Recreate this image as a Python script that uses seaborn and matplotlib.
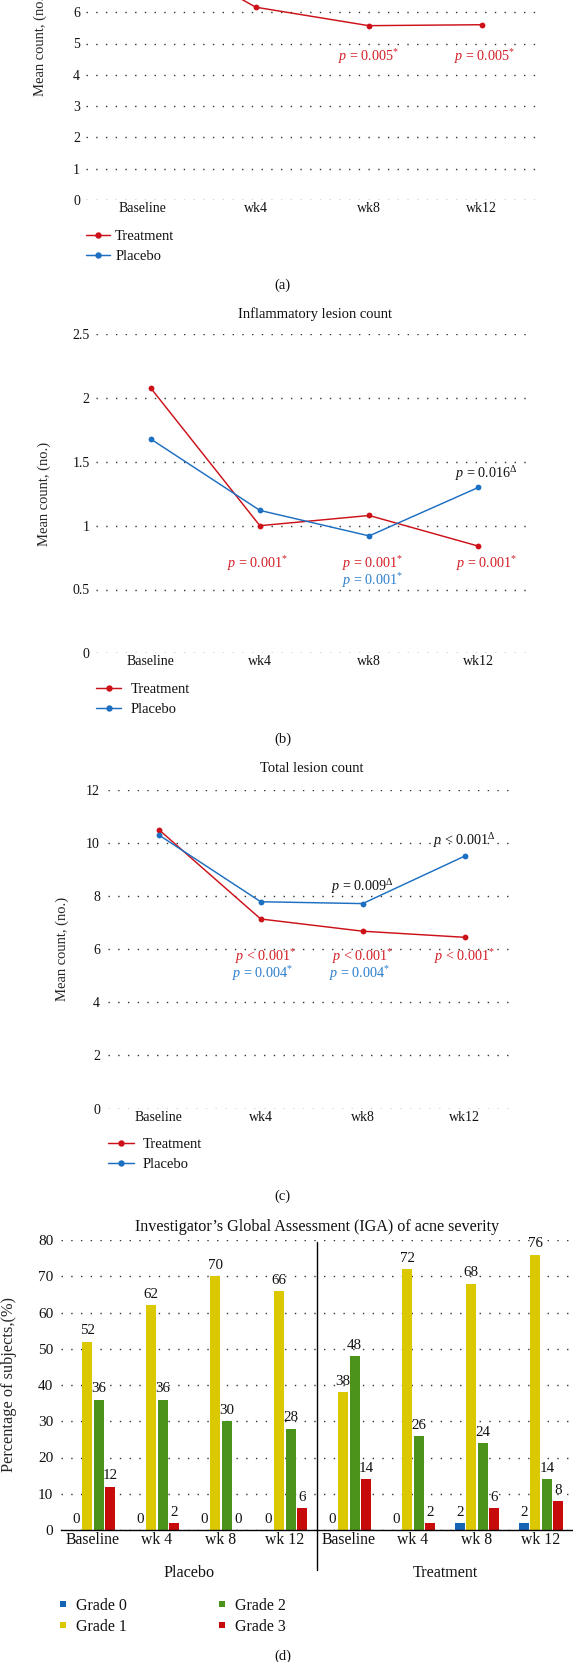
import numpy as np
import pandas as pd
import matplotlib
matplotlib.use("Agg")
import matplotlib.pyplot as plt
import matplotlib.transforms as mtransforms
from matplotlib.lines import Line2D
from matplotlib.ticker import FormatStrFormatter
import seaborn as sns

# ---------------- data ----------------
visits = ["Baseline", "wk4", "wk8", "wk12"]
groups = ["Treatment", "Placebo"]

# (a) only the lower part of this panel is visible in the image
a_treatment = [8.2, 6.16, 5.57, 5.60]

# (b) Inflammatory lesion count
b_treatment = [2.08, 1.00, 1.08, 0.84]
b_placebo = [1.68, 1.12, 0.92, 1.30]

# (c) Total lesion count
c_treatment = [10.51, 7.14, 6.68, 6.45]
c_placebo = [10.31, 7.79, 7.72, 9.51]

# (d) IGA of acne severity (percent of subjects)
iga_visits = ["Baseline", "wk 4", "wk 8", "wk 12"]
iga_arms = ["Placebo", "Treatment"]
grades = ["Grade 0", "Grade 1", "Grade 2", "Grade 3"]
grade0 = [0, 0, 0, 0, 0, 0, 2, 2]
grade1 = [52, 62, 70, 66, 38, 72, 68, 76]
grade2 = [36, 36, 30, 28, 48, 26, 24, 14]
grade3 = [12, 2, 0, 6, 14, 2, 6, 8]

# ---------------- style ----------------
sns.set_style("white")
plt.rcParams["font.family"] = ["Liberation Serif", "DejaVu Serif"]
plt.rcParams["mathtext.fontset"] = "custom"
plt.rcParams["mathtext.rm"] = "Liberation Serif"
plt.rcParams["mathtext.it"] = "Liberation Serif:italic"
plt.rcParams["text.color"] = "#111111"

RED = "#cc1119"
BLUE = "#1d6fc1"
ANN_RED = "#d21f26"
ANN_BLUE = "#2c7fcd"
grade_colors = ["#1565b5", "#dcc800", "#4c931c", "#c70b0b"]

W, H = 573, 1662
fig = plt.figure(figsize=(W / 100, H / 100), dpi=100)
fig.patch.set_facecolor("white")


def rect(left, top, right, bottom):
    return [left / W, 1 - bottom / H, (right - left) / W, (bottom - top) / H]


ax_a = fig.add_axes(rect(86.2, -113, 538.2, 200))
ax_b = fig.add_axes(rect(96, 334.3, 533, 653.3))
ax_c = fig.add_axes(rect(107.7, 790, 515.7, 1108.5))
ax_d = fig.add_axes(rect(61, 1240, 573, 1530))


def style_axes(ax, ymax, step, fs, ypad, xpad, tick_top=None):
    ax.set_ylim(0, ymax)
    top = ymax if tick_top is None else tick_top
    ax.set_yticks(np.arange(0, top + step / 2, step))
    ax.yaxis.set_major_formatter(FormatStrFormatter("%g"))
    ax.grid(axis="y", linestyle=(0, (1, 6)), color="#333333", linewidth=1)
    ax.grid(axis="x", visible=False)
    ax.set_axisbelow(True)
    for s in ax.spines.values():
        s.set_visible(False)
    ax.tick_params(axis="both", length=0, labelsize=fs, colors="#111111")
    ax.tick_params(axis="y", pad=ypad)
    ax.tick_params(axis="x", pad=xpad)
    ax.set_xlabel("")


def line_panel(ax, treat, plac):
    frames = [pd.DataFrame({"visit": visits, "count": treat, "group": "Treatment"})]
    order = ["Treatment"]
    if plac is not None:
        frames.append(pd.DataFrame({"visit": visits, "count": plac, "group": "Placebo"}))
        order.append("Placebo")
    df = pd.concat(frames, ignore_index=True)
    sns.lineplot(data=df, x="visit", y="count", hue="group", hue_order=order,
                 palette={"Treatment": RED, "Placebo": BLUE}, marker="o",
                 markersize=4.2, markeredgewidth=0, linewidth=1.05, sort=False,
                 legend=False, errorbar=None, ax=ax)
    ax.set_xlim(-0.5, 3.5)


def line_legend(x, ytop, hl, htp):
    handles = [Line2D([], [], color=RED, marker="o", markersize=4.6, lw=1.05, markeredgewidth=0),
               Line2D([], [], color=BLUE, marker="o", markersize=4.6, lw=1.05, markeredgewidth=0)]
    fig.legend(handles, groups, loc="upper left", bbox_to_anchor=(x / W, 1 - ytop / H),
               frameon=False, fontsize=10.5, handlelength=hl, handletextpad=htp,
               labelspacing=0.48, borderpad=0, borderaxespad=0)


def ptext(ax, x, y, s, color):
    ax.text(x, y, s, color=color, ha="center", va="center", fontsize=10.2)


# ---------------- (a) ----------------
line_panel(ax_a, a_treatment, None)
style_axes(ax_a, 10, 1, 10, 4.3, 1.5, tick_top=6)
ax_a.set_ylabel("Mean count, (no.)", fontsize=10.5)
ax_a.yaxis.set_label_coords(-0.1007, 0.5)
ax_a.yaxis.label.set_va("center")
ptext(ax_a, 2.0, 4.58, r"$p$ = 0.005$^{*}$", ANN_RED)
ptext(ax_a, 3.03, 4.58, r"$p$ = 0.005$^{*}$", ANN_RED)
line_legend(86, 229.5, 1.65, 0.35)
fig.text(282.5 / W, 1 - 285 / H, "(a)", ha="center", va="center", fontsize=10.5)

# ---------------- (b) ----------------
line_panel(ax_b, b_treatment, b_placebo)
style_axes(ax_b, 2.5, 0.5, 10, 4.6, 1.5)
ax_b.set_ylabel("Mean count, (no.)", fontsize=10.5)
ax_b.yaxis.set_label_coords(-0.119, 0.5)
ax_b.yaxis.label.set_va("center")
ax_b.set_title("Inflammatory lesion count", fontsize=10.5, pad=11.5)
ptext(ax_b, 3.07, 1.41, r"$p$ = 0.016$^{\Delta}$", "#111111")
ptext(ax_b, 0.98, 0.70, r"$p$ = 0.001$^{*}$", ANN_RED)
ptext(ax_b, 2.03, 0.70, r"$p$ = 0.001$^{*}$", ANN_RED)
ptext(ax_b, 3.08, 0.70, r"$p$ = 0.001$^{*}$", ANN_RED)
ptext(ax_b, 2.03, 0.57, r"$p$ = 0.001$^{*}$", ANN_BLUE)
line_legend(95.8, 682.5, 1.75, 0.65)
fig.text(282.5 / W, 1 - 739.3 / H, "(b)", ha="center", va="center", fontsize=10.5)

# ---------------- (c) ----------------
line_panel(ax_c, c_treatment, c_placebo)
style_axes(ax_c, 12, 2, 10, 5.5, 1.5)
ax_c.set_ylabel("Mean count, (no.)", fontsize=10.5)
ax_c.yaxis.set_label_coords(-0.111, 0.5)
ax_c.yaxis.label.set_va("center")
ax_c.set_title("Total lesion count", fontsize=10.5, pad=13)
ptext(ax_c, 2.0, 8.36, r"$p$ = 0.009$^{\Delta}$", "#111111")
ptext(ax_c, 3.0, 10.09, r"$p$ < 0.001$^{\Delta}$", "#111111")
ptext(ax_c, 1.05, 5.74, r"$p$ < 0.001$^{*}$", ANN_RED)
ptext(ax_c, 2.0, 5.74, r"$p$ < 0.001$^{*}$", ANN_RED)
ptext(ax_c, 3.0, 5.74, r"$p$ < 0.001$^{*}$", ANN_RED)
ptext(ax_c, 1.02, 5.07, r"$p$ = 0.004$^{*}$", ANN_BLUE)
ptext(ax_c, 1.97, 5.07, r"$p$ = 0.004$^{*}$", ANN_BLUE)
line_legend(107.8, 1138, 1.8, 0.6)
fig.text(282.5 / W, 1 - 1196 / H, "(c)", ha="center", va="center", fontsize=10.5)

# ---------------- (d) ----------------
iga_keys = [f"{arm}|{v}" for arm in iga_arms for v in iga_visits]
df_iga = pd.DataFrame({
    "visit": iga_keys * 4,
    "grade": np.repeat(grades, len(iga_keys)),
    "pct": grade0 + grade1 + grade2 + grade3,
})
sns.barplot(data=df_iga, x="visit", y="pct", hue="grade", order=iga_keys, hue_order=grades,
            palette=grade_colors, saturation=1, width=0.72, gap=0.15, dodge=True,
            errorbar=None, legend=False, linewidth=0, ax=ax_d)
ax_d.set_xlim(-0.5, 7.5)
style_axes(ax_d, 80, 10, 11, 5.5, 1.5)
ax_d.spines["bottom"].set_visible(True)
ax_d.spines["bottom"].set_color("black")
ax_d.spines["bottom"].set_linewidth(1)
ax_d.set_xticks(range(len(iga_keys)))
ax_d.set_xticklabels(iga_visits * 2)
ax_d.tick_params(axis="x", labelsize=11.3)
for cont in ax_d.containers:
    ax_d.bar_label(cont, fmt="%g", padding=3, fontsize=10.8, color="#111111")
ax_d.set_ylabel("Percentage of subjects,(%)", fontsize=11.8)
ax_d.yaxis.set_label_coords(-0.1016, 0.5)
ax_d.yaxis.label.set_va("center")
ax_d.set_title("Investigator\u2019s Global Assessment (IGA) of acne severity", fontsize=11.6, pad=6.8)
ax_d.axvline(3.5, ymin=(1530 - 1570) / 290, ymax=(1530 - 1241.7) / 290,
             color="black", lw=1, clip_on=False)
blend = mtransforms.blended_transform_factory(ax_d.transData, ax_d.transAxes)
for xc, arm in zip([1.5, 5.5], iga_arms):
    ax_d.text(xc, (1530 - 1573) / 290, arm, transform=blend, ha="center", va="center",
              fontsize=11.6)

handles_d = [Line2D([], [], ls="none", marker="s", markersize=5, color=c, markeredgewidth=0)
             for c in grade_colors]
fig.legend(handles_d, grades, loc="upper left", bbox_to_anchor=(57 / W, 1 - 1598 / H), ncol=2,
           frameon=False, fontsize=11.5, handlelength=0.8, handletextpad=0.4,
           columnspacing=5.55, labelspacing=0.3, borderpad=0, borderaxespad=0)
fig.text(282.5 / W, 1 - 1656.7 / H, "(d)", ha="center", va="center", fontsize=10.5)

fig.savefig("out.png", dpi=100, facecolor="white")
